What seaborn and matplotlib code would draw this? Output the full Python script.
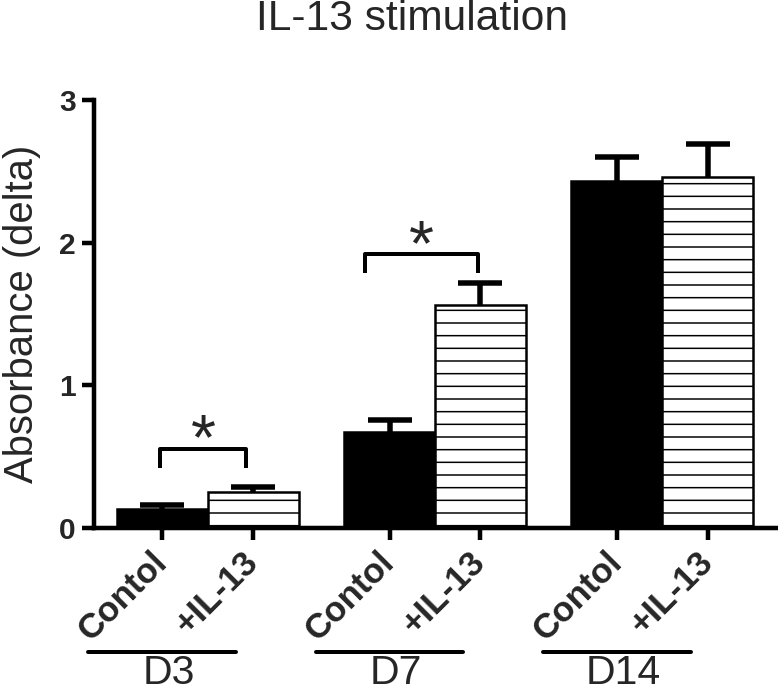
import numpy as np
import pandas as pd
import matplotlib
matplotlib.use('Agg')
import matplotlib.pyplot as plt
import matplotlib.transforms as mtransforms
import seaborn as sns

# values
days = ["D3", "D7", "D14"]
treatments = ["Contol", "+IL-13"]
control_mean = [0.13, 0.67, 2.43]
control_err = [0.03, 0.09, 0.17]
il13_mean = [0.25, 1.56, 2.46]
il13_err = [0.035, 0.16, 0.23]

# significance brackets: group index, left/right offset from group centre, leg bottom, bracket top
sig_groups = [0, 1]
sig_left = [-0.21, -0.31]
sig_right = [0.17, 0.19]
sig_low = [0.42, 1.79]
sig_high = [0.555, 1.92]

DPI = 76
px = 72 / DPI  # points per pixel

sns.set_style("ticks")
plt.rcParams['font.family'] = ['Liberation Sans', 'DejaVu Sans']
plt.rcParams['hatch.linewidth'] = 1.5 * px
plt.rcParams['hatch.color'] = 'black'

df = pd.DataFrame({
    "day": days * 2,
    "treatment": [treatments[0]] * 3 + [treatments[1]] * 3,
    "value": control_mean + il13_mean,
    "err": control_err + il13_err,
})

fig = plt.figure(figsize=(778 / DPI, 694 / DPI), dpi=DPI)
ax = fig.add_axes([94 / 778, 1 - 528 / 694, (776 - 94) / 778, (528 - 100) / 694])

sns.barplot(data=df, x="day", y="value", hue="treatment", order=days, hue_order=treatments,
            palette=["black", "white"], edgecolor="black", linewidth=2.5 * px,
            errorbar=None, width=0.8, legend=False, ax=ax)

centers, tops, errs, labels = [], [], [], []
bars = [p for p in ax.patches if p.get_height() > 0]
for i, patch in enumerate(bars):
    trt = i // 3
    grp = i % 3
    if trt == 1:
        patch.set_hatch('-')
        patch.set_facecolor('white')
    centers.append(patch.get_x() + patch.get_width() / 2)
    tops.append(patch.get_height())
    errs.append((control_err if trt == 0 else il13_err)[grp])
    labels.append(treatments[trt])

# one-sided error bars (upper only)
eb = ax.errorbar(centers, tops, yerr=[np.zeros(len(errs)), errs], fmt='none', ecolor='black',
                 elinewidth=5.5 * px, capsize=22 * px, capthick=5.5 * px, zorder=1)
eb[1][0].set_visible(False)

order = np.argsort(centers)
ax.set_xticks(np.array(centers)[order])
ax.set_xticklabels(np.array(labels)[order], rotation=45, ha='right', va='center',
                   rotation_mode='anchor', fontweight='bold', fontsize=35 * px)
ax.set_xlim(-0.5, 2.5)
ax.set_ylim(0, 3)
ax.set_yticks([0, 1, 2, 3])
ax.set_yticklabels(["0", "1", "2", "3"], fontweight='bold', fontsize=30 * px)
ax.tick_params(axis='both', length=12 * px, width=4.5 * px, color='black')
ax.tick_params(axis='x', pad=17 * px)
ax.tick_params(axis='y', pad=6 * px)
for side in ['left', 'bottom']:
    ax.spines[side].set_linewidth(4.5 * px)
    ax.spines[side].set_color('black')
sns.despine(ax=ax)

ax.set_xlabel("")
ax.set_ylabel("Absorbance (delta)", fontsize=40 * px)
ax.yaxis.set_label_coords(-0.078, 0.5)

# significance brackets with stars
for g, l, r, lo, hi in zip(sig_groups, sig_left, sig_right, sig_low, sig_high):
    xs = [g + l, g + l, g + r, g + r]
    ys = [lo, hi, hi, lo]
    ax.plot(xs, ys, color='black', lw=4 * px, solid_capstyle='butt', clip_on=False)
    ax.text(g + (l + r) / 2, hi - 0.075, "*", ha='center', va='baseline', fontsize=64 * px)

# day group underlines and labels below the axis
trans = mtransforms.blended_transform_factory(ax.transData, ax.transAxes)
for g, day in enumerate(days):
    xc = g - 0.2
    ax.plot([xc - 0.325, xc + 0.325], [-0.289, -0.289], color='black', lw=4 * px,
            transform=trans, clip_on=False)
    ax.text(xc + 0.03, -0.365, day, ha='center', va='baseline', fontsize=41 * px, transform=trans)

fig.text(412 / 778, 1 - 30 / 694, "IL-13 stimulation", ha='center', va='baseline', fontsize=42.5 * px)

fig.savefig("out.png", dpi=DPI)
